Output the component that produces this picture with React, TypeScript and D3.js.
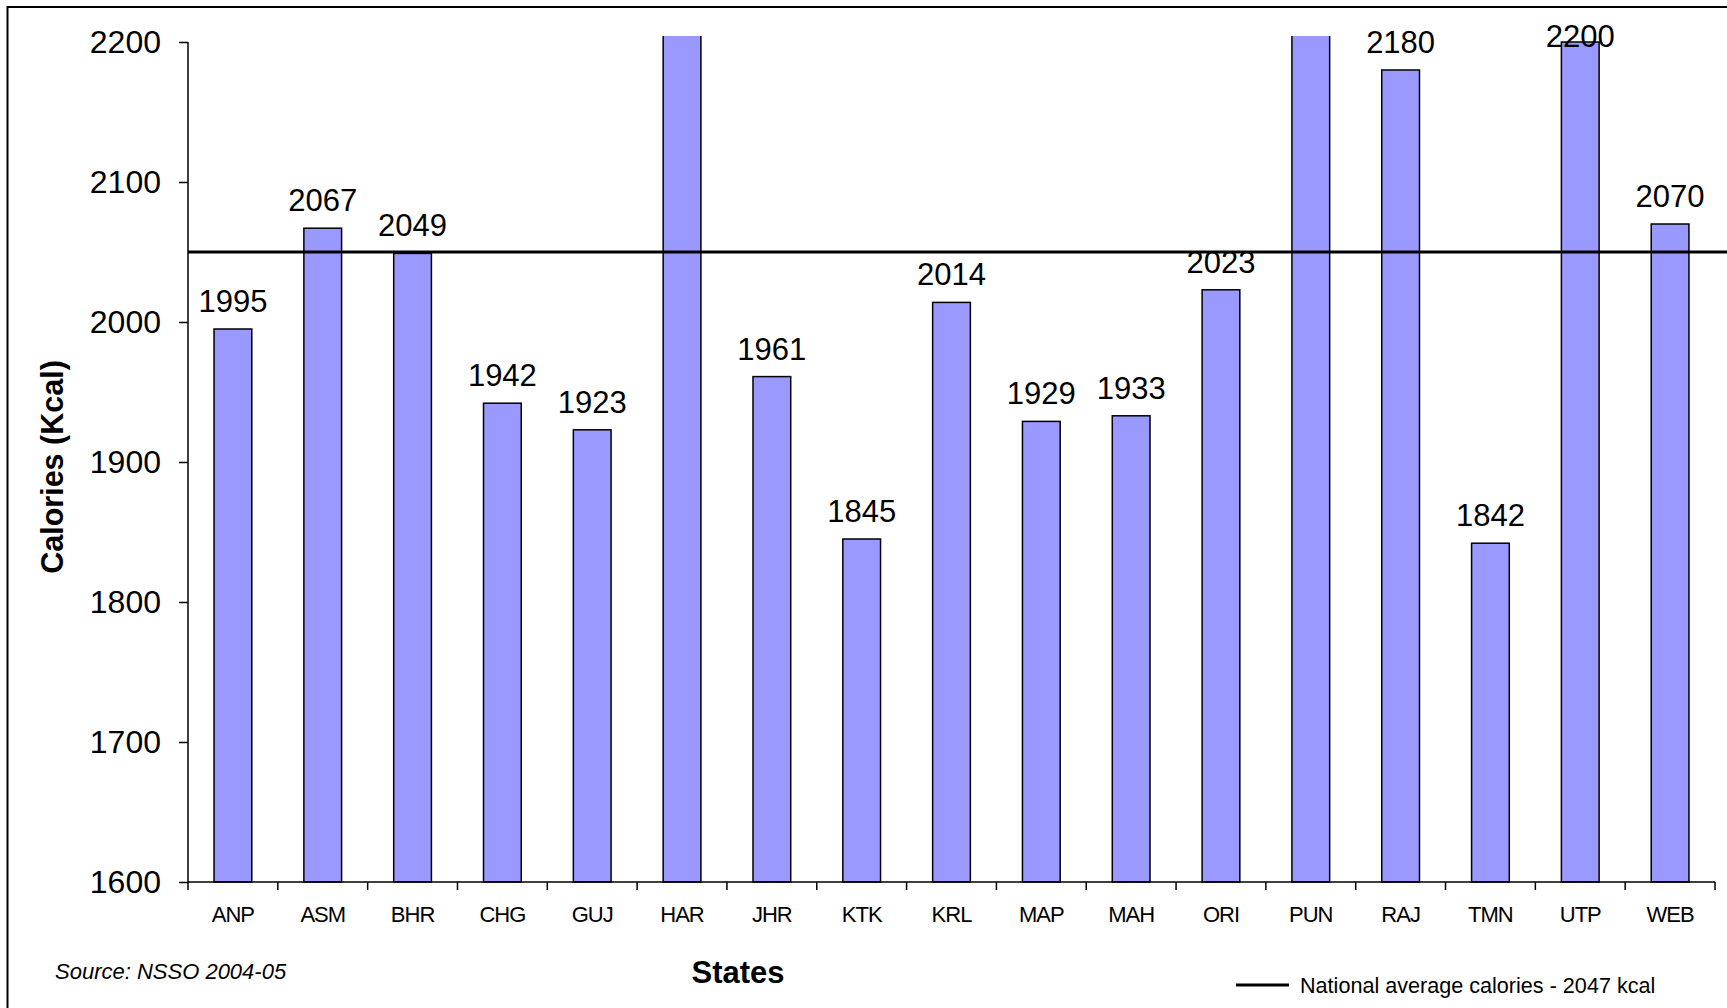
import { useEffect, useRef } from 'react';
import * as d3 from 'd3';

// values (HAR and PUN run past the top of the axis)
const states = ['ANP', 'ASM', 'BHR', 'CHG', 'GUJ', 'HAR', 'JHR', 'KTK', 'KRL', 'MAP', 'MAH', 'ORI', 'PUN', 'RAJ', 'TMN', 'UTP', 'WEB'];
const calories = [1995, 2067, 2049, 1942, 1923, 2290, 1961, 1845, 2014, 1929, 1933, 2023, 2240, 2180, 1842, 2200, 2070];
const yTicks = [1600, 1700, 1800, 1900, 2000, 2100, 2200];
const nationalAverage = 2050;
const legendLabel = 'National average calories - 2047 kcal';

const W = 1727;
const H = 1008;
const FONT = '"Liberation Sans", Arial, sans-serif';

const App = () => {
  const yAxisRef = useRef<SVGGElement>(null);
  const xAxisRef = useRef<SVGGElement>(null);

  const left = 188;
  const right = 1715;
  const top = 42;
  const bottom = 882;
  const plotTop = 36;

  const x = d3.scaleBand().domain(states).range([left, right]).paddingInner(0.58).paddingOuter(0.29);
  const y = d3.scaleLinear().domain([1600, 2200]).range([bottom, top]);

  useEffect(() => {
    const yAxis = d3
      .axisLeft(y)
      .tickValues(yTicks)
      .tickSize(9)
      .tickPadding(18)
      .tickFormat((d) => String(d));
    const gy = d3.select(yAxisRef.current);
    gy.selectAll('*').remove();
    gy.call(yAxis);
    gy.select('.domain').attr('d', `M0,${top}V${bottom}`).attr('stroke-width', 1.5);
    gy.selectAll('.tick line').attr('stroke-width', 1.5);
    gy.selectAll('.tick text')
      .attr('font-size', 32)
      .attr('font-family', FONT)
      .attr('fill', '#000');

    // category ticks sit on the band boundaries, labels at band centres
    const gx = d3.select(xAxisRef.current);
    gx.selectAll('*').remove();
    gx.append('line')
      .attr('x1', left)
      .attr('x2', right)
      .attr('y1', bottom)
      .attr('y2', bottom)
      .attr('stroke', '#000')
      .attr('stroke-width', 1.5);
    const boundaries = d3.range(states.length + 1).map((i) => x.range()[0] + i * x.step());
    gx.selectAll('line.tk')
      .data(boundaries)
      .enter()
      .append('line')
      .attr('class', 'tk')
      .attr('x1', (d) => d)
      .attr('x2', (d) => d)
      .attr('y1', bottom)
      .attr('y2', bottom + 8)
      .attr('stroke', '#000')
      .attr('stroke-width', 1.5);
    gx.selectAll('text')
      .data(states)
      .enter()
      .append('text')
      .attr('x', (d) => (x(d) as number) + x.bandwidth() / 2)
      .attr('y', 922)
      .attr('text-anchor', 'middle')
      .attr('font-size', 22)
      .attr('letter-spacing', -1)
      .attr('font-family', FONT)
      .text((d) => d);
  }, []);

  return (
    <svg
      width={W}
      height={H}
      viewBox={`0 0 ${W} ${H}`}
      style={{ position: 'absolute', left: 0, top: 0, background: '#fff' }}
      fontFamily={FONT}
    >
      <defs>
        <clipPath id="plotClip">
          <rect x={0} y={plotTop} width={W} height={H} />
        </clipPath>
      </defs>
      <rect x={7.5} y={7} width={W + 20} height={H + 20} fill="#fff" stroke="#000" strokeWidth={2} />

      <g clipPath="url(#plotClip)">
        {states.map((s, i) => (
          <rect
            key={s}
            x={x(s)}
            y={y(calories[i])}
            width={x.bandwidth()}
            height={bottom - y(calories[i])}
            fill="#9999FF"
            stroke="#000"
            strokeWidth={1.5}
          />
        ))}
      </g>

      <line x1={left} x2={W} y1={y(nationalAverage)} y2={y(nationalAverage)} stroke="#000" strokeWidth={3} />

      {states.map((s, i) =>
        calories[i] > 2200 ? null : (
          <text
            key={s}
            x={(x(s) as number) + x.bandwidth() / 2}
            y={Math.max(y(calories[i]) - 17, plotTop + 11)}
            textAnchor="middle"
            fontSize={31}
          >
            {calories[i]}
          </text>
        )
      )}

      <g ref={yAxisRef} transform={`translate(${left},0)`} />
      <g ref={xAxisRef} />

      <text
        transform={`translate(63,${(top + bottom) / 2 + 5}) rotate(-90)`}
        textAnchor="middle"
        fontSize={30.5}
        fontWeight="bold"
      >
        Calories (Kcal)
      </text>
      <text x={738} y={983} textAnchor="middle" fontSize={31} fontWeight="bold">
        States
      </text>
      <text x={55} y={979} fontSize={22} fontStyle="italic">
        Source: NSSO 2004-05
      </text>
      <line x1={1236} x2={1289} y1={985} y2={985} stroke="#000" strokeWidth={3} />
      <text x={1300} y={993} fontSize={21.6}>
        {legendLabel}
      </text>
    </svg>
  );
};

export default App;
